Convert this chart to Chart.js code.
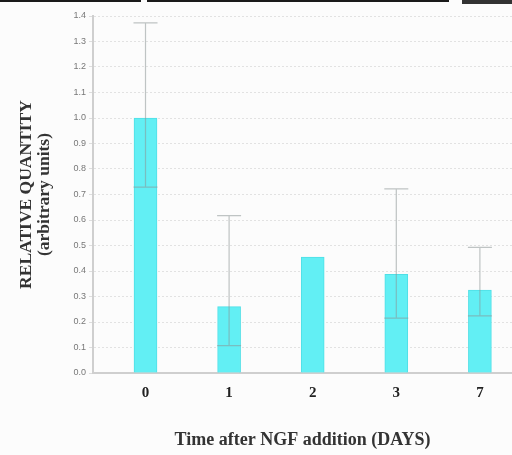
<!DOCTYPE html>
<html>
<head>
<meta charset="utf-8">
<script src="https://cdn.jsdelivr.net/npm/chart.js@4"></script>
<style>
  html, body { margin: 0; padding: 0; background: #fcfcfc; overflow: hidden; }
  #wrap { position: relative; width: 512px; height: 455px; }
  canvas { position: absolute; left: 0; top: 0; }
  .blk { position: absolute; top: 0; background: #1a1a1a; height: 2px; }
</style>
</head>
<body>
<div id="wrap">
  <canvas id="c" width="512" height="455"></canvas>
  <div class="blk" style="left:0;width:141px"></div>
  <div class="blk" style="left:147px;width:302px"></div>
  <div class="blk" style="left:462px;width:50px;height:4px;background:#333"></div>
</div>
<script>
const categories = ['0', '1', '2', '3', '7'];
const values = [1.00, 0.26, 0.455, 0.387, 0.325];
const errUpper = [1.373, 0.617, null, 0.722, 0.493];
const errLower = [0.729, 0.107, null, 0.215, 0.224];
const yTicks = [0.0, 0.1, 0.2, 0.3, 0.4, 0.5, 0.6, 0.7, 0.8, 0.9, 1.0, 1.1, 1.2, 1.3, 1.4];

const points = values.map((v, i) => ({ x: i, y: v }));

const errorBars = {
  id: 'errorBars',
  afterDatasetsDraw(chart) {
    const ctx = chart.ctx;
    const xs = chart.scales.x, ys = chart.scales.y;
    ctx.save();
    ctx.strokeStyle = 'rgba(140,150,150,0.55)';
    ctx.lineWidth = 1.2;
    values.forEach((v, i) => {
      if (errUpper[i] == null) return;
      const cx = xs.getPixelForValue(i);
      const yh = ys.getPixelForValue(errUpper[i]);
      const yl = ys.getPixelForValue(errLower[i]);
      const hw = 12;
      ctx.beginPath();
      ctx.moveTo(cx, yl); ctx.lineTo(cx, yh);
      ctx.moveTo(cx - hw, yh); ctx.lineTo(cx + hw, yh);
      ctx.moveTo(cx - hw, yl); ctx.lineTo(cx + hw, yl);
      ctx.stroke();
    });
    ctx.restore();
  }
};

new Chart(document.getElementById('c'), {
  type: 'bar',
  data: {
    datasets: [{
      data: points,
      backgroundColor: '#62eff4',
      borderColor: '#4fdfe6',
      borderWidth: 1,
      barThickness: 23
    }]
  },
  options: {
    responsive: false,
    animation: false,
    layout: { padding: { top: 16, right: 0, left: 0, bottom: 0 } },
    plugins: { legend: { display: false }, tooltip: { enabled: false } },
    scales: {
      x: {
        type: 'linear',
        offset: false,
        min: -0.628,
        max: 4.384,
        afterBuildTicks(scale) { scale.ticks = categories.map((c, i) => ({ value: i })); },
        afterFit(scale) { scale.height = 82; },
        grid: { display: false, offset: false },
        border: { display: true, color: '#cfcfcf', width: 2 },
        ticks: {
          callback: (v) => categories[v],
          color: '#222',
          font: { family: 'Liberation Serif', size: 15, weight: 'bold' },
          padding: 3,
          maxRotation: 0
        },
        title: {
          display: true,
          text: 'Time after NGF addition (DAYS)',
          color: '#333',
          font: { family: 'Liberation Serif', size: 18, weight: 'bold' },
          padding: { top: 0, bottom: 4 }
        }
      },
      y: {
        min: 0,
        max: 1.4,
        afterBuildTicks(scale) { scale.ticks = yTicks.map(v => ({ value: v })); },
        afterFit(scale) { scale.width = 93; },
        grid: {
          color: '#e2e2e2',
          lineWidth: 1,
          tickLength: 4,
          drawTicks: true,
          tickColor: '#dddddd'
        },
        border: { display: true, color: '#cfcfcf', width: 2, dash: [2, 2] },
        ticks: {
          callback: (v) => v.toFixed(1),
          color: '#777',
          font: { family: 'Liberation Sans', size: 9 },
          padding: 3
        },
        title: {
          display: true,
          text: ['RELATIVE QUANTITY', '(arbitrary units)'],
          color: '#333',
          font: { family: 'Liberation Serif', size: 17.5, weight: 'bold', lineHeight: 1.05 },
          padding: { top: 17, bottom: 0 }
        }
      }
    }
  },
  plugins: [errorBars]
});
</script>
</body>
</html>
